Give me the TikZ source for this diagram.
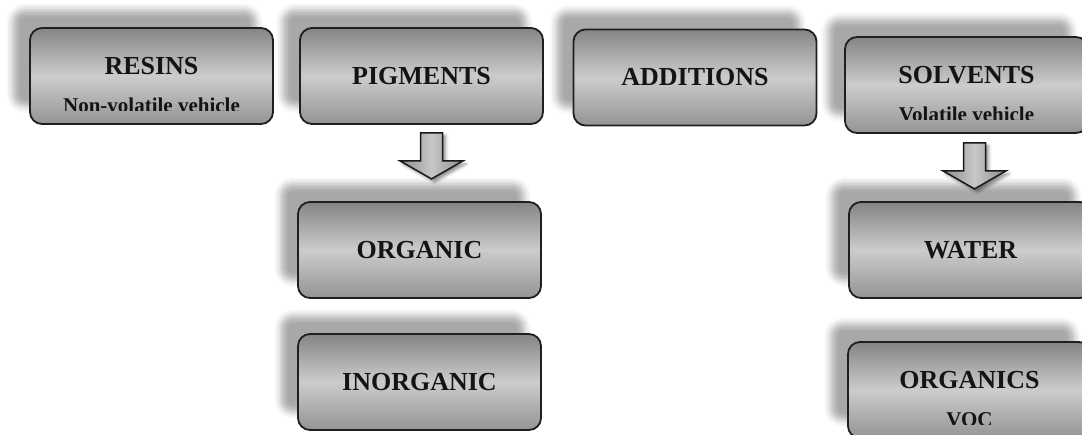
\documentclass[tikz,border=0pt]{standalone}
\usepackage{fontspec}
\setmainfont{Liberation Serif}
\usetikzlibrary{shadows.blur}
\tikzset{
  box/.style={rectangle, rounded corners=12pt, draw=black!88, line width=1.8pt,
              minimum width=243pt, minimum height=96pt, inner sep=0pt,
              top color=black!48, bottom color=black!42, middle color=black!20,
              font=\fontsize{26}{30}\selectfont\bfseries, text=black!92,
              blur shadow={shadow xshift=-17pt, shadow yshift=18pt,
                           shadow blur radius=7pt, shadow opacity=34}},
  twoline/.style={text height=18pt, text depth=22pt},
  sublbl/.style={font=\fontsize{21}{24}\selectfont\bfseries, text=black!92,
                 inner sep=0pt, anchor=base},
  downarr/.style={draw=black!90, line width=1.5pt, line join=miter,
                  left color=black!45, right color=black!45, middle color=black!22,
                  blur shadow={shadow xshift=3pt, shadow yshift=-3pt,
                               shadow blur radius=3pt, shadow opacity=45}},
}
\begin{document}
\begin{tikzpicture}[x=1pt, y=1pt]
  \useasboundingbox (0,0) rectangle (1082,-434);
  \clip (0,0) rectangle (1082,-434);
  \node[box, twoline] (resins) at (151.5,-76)  {RESINS};
  \node[box]          (pig)    at (421.5,-76)  {PIGMENTS};
  \node[box]          (add)    at (695,-77.5)  {ADDITIONS};
  \node[box, twoline] (solv)   at (966.5,-85)  {SOLVENTS};
  \node[box]          (org)    at (419.5,-250) {ORGANIC};
  \node[box]          (inorg)  at (419.5,-382) {INORGANIC};
  \node[box]          (water)  at (970.5,-250) {WATER};
  \node[box, twoline] (orgs)   at (969.5,-390) {ORGANICS};
  % second lines, cut off by the box
  \foreach \b/\t in {resins/Non-volatile vehicle, solv/Volatile vehicle, orgs/VOC} {
    \begin{scope}
      \clip (\b.north west) rectangle ([yshift=14.5pt]\b.south east);
      \node[sublbl] (\b-sub) at ([yshift=-36.5pt]\b.center) {\t};
    \end{scope}
  }
  % block arrows
  \coordinate (arr1) at ([xshift=10pt, yshift=-8pt]pig.south);
  \coordinate (arr2) at ([xshift=8pt, yshift=-9pt]solv.south);
  \foreach \a in {arr1, arr2}
    \draw[downarr, shift={(\a)}] (-11,0) -- (11,0) -- (11,-28) -- (31.5,-28)
      -- (0,-46) -- (-31.5,-28) -- (-11,-28) -- cycle;
\end{tikzpicture}
\end{document}
